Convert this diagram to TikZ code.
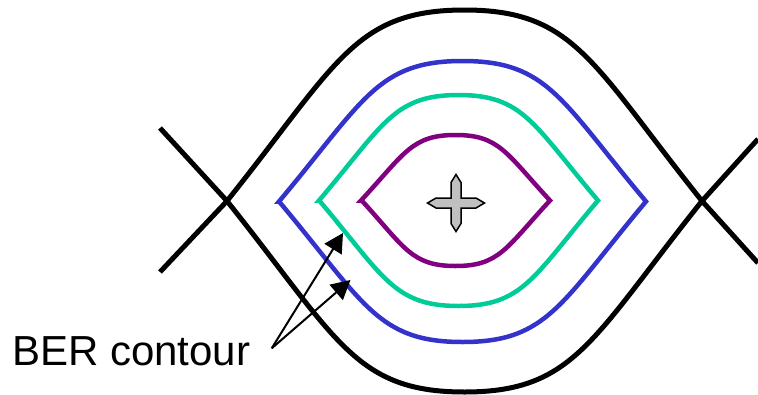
\documentclass[tikz,border=0pt]{standalone}
\usepackage{fontspec}
\setmainfont{Liberation Sans}
\usetikzlibrary{arrows.meta}
\definecolor{bluec}{HTML}{3333CC}
\definecolor{tealc}{HTML}{00CC99}
\definecolor{purplec}{HTML}{800080}
\definecolor{grayc}{HTML}{C0C0C0}
\begin{document}
\begin{tikzpicture}[x=1pt,y=-1pt,
  eyeline/.style={line width=5pt, black, line join=round},
  contourline/.style={line width=4.5pt, line join=miter},
  arr/.style={line width=2pt, -{Triangle[length=19pt,width=20pt]}},
  lbl/.style={font=\fontsize{42}{50}\selectfont, inner sep=0pt, anchor=base west},
  markshape/.style={fill=grayc, draw=black, line width=1.5pt, line join=miter}]
\useasboundingbox (0,0) rectangle (758,394);
% black eye traces
\coordinate (xl) at (227,201);
\coordinate (xr) at (702,201);
\draw[eyeline] (160,272) -- (xl) .. controls (337,63.5) and (354.5,10) .. (464.5,10)
  .. controls (574.5,10) and (592,63.5) .. (xr) -- (758,263);
\draw[eyeline] (160,128) -- (xl) .. controls (337,338.5) and (354.5,392) .. (464.5,392)
  .. controls (574.5,392) and (592,338.5) .. (xr) -- (758,139);
% BER contours
\foreach \cx/\cy/\w/\h/\col in {462.5/201.5/183.5/140.5/bluec, 458.5/200.5/139.5/105.5/tealc, 455.5/200.5/94.5/65.5/purplec}{
  \begin{scope}[shift={(\cx,\cy)}, xscale=\w, yscale=\h]
    \draw[contourline, draw=\col] (-1,0) .. controls (-0.537,-0.72) and (-0.465,-1) .. (0,-1)
      .. controls (0.465,-1) and (0.537,-0.72) .. (1,0)
      .. controls (0.537,0.72) and (0.465,1) .. (0,1)
      .. controls (-0.465,1) and (-0.537,0.72) .. cycle;
  \end{scope}
}
% centre marker
\begin{scope}[shift={(456,203)}]
\draw[markshape] (0,-28.5) -- (5,-20.5) -- (5,-5) -- (20,-5) -- (28.5,0) -- (20,5) -- (5,5)
  -- (5,20.5) -- (0,28.5) -- (-5,20.5) -- (-5,5) -- (-20,5) -- (-28.5,0) -- (-20,-5)
  -- (-5,-5) -- (-5,-20.5) -- cycle;
\end{scope}
% label and arrows
\node[lbl] (label) at (12,365) {BER contour};
\coordinate (tail) at (271.7,348.3);
\coordinate (tipa) at (343,233);
\coordinate (tipb) at (350.5,280);
\draw[arr] (tail) -- (tipa);
\draw[arr] (tail) -- (tipb);
\end{tikzpicture}
\end{document}
